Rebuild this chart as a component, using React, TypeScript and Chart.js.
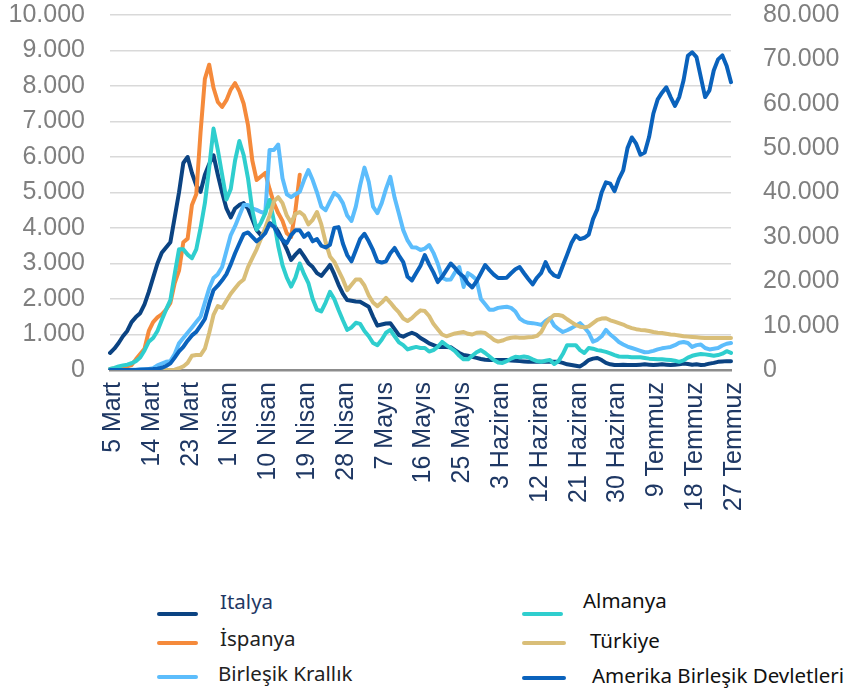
import React, { useEffect, useRef } from 'react';
import { Chart, registerables } from 'chart.js';

Chart.register(...registerables);

const MONTHS = ['Mart', 'Nisan', 'Mayıs', 'Haziran', 'Temmuz'];
const MONTH_DAYS = [31, 30, 31, 30, 31];
const START_DAY = 5;
const DAY_COUNT = 145;
const TICK_EVERY = 9;

function buildDates(n: number): string[] {
  const out: string[] = [];
  let m = 0;
  let d = START_DAY;
  for (let i = 0; i < n; i++) {
    out.push(`${d} ${MONTHS[m]}`);
    d++;
    if (d > MONTH_DAYS[m]) {
      d = 1;
      m++;
    }
  }
  return out;
}

const DATES = buildDates(DAY_COUNT);

const ITALY = [
  480, 600, 760, 950, 1100, 1350, 1490, 1600, 1850, 2200,
  2600, 3000, 3300, 3450, 3600, 4300, 5000, 5830, 6000, 5550,
  5200, 5020, 5500, 5800, 6050, 5500, 5000, 4550, 4300, 4550,
  4650, 4700, 4550, 4250, 3940, 3800, 3900, 4140, 4080, 3900,
  3660, 3400, 3100, 3250, 3380, 3200, 3010, 2900, 2730, 2650,
  2800, 2960, 2700, 2400, 2150, 1970, 1950, 1930, 1920, 1850,
  1780, 1500, 1250, 1280, 1310, 1320, 1150, 980, 940, 1000,
  1050, 1000, 900, 830, 750, 700, 650, 650, 650, 640,
  560, 480, 420, 400, 370, 340, 310, 290, 280, 280,
  280, 280, 280, 270, 260, 250, 240, 230, 230, 230,
  230, 230, 230, 230, 230, 200, 160, 140, 120, 100,
  180, 280, 320, 340, 280, 200, 160, 140, 140, 150,
  140, 140, 140, 150, 160, 150, 140, 150, 160, 150,
  140, 150, 160, 180, 170, 150, 160, 140, 150, 180,
  200, 230, 240, 250, 250,
];

const SPAIN_REPORTED = [
  30, 40, 50, 70, 100, 140, 300, 450, 600, 1100,
  1350, 1480, 1570, 1700, 1890, 2450, 2800, 3600, 3700, 4650,
  4950, 6700, 8200, 8600, 7950, 7550, 7410, 7600, 7900, 8080,
  7850, 7500, 6900, 5900, 5350, 5450, 5550, 5100, 4700, 4420,
  4200, 3850, 3750, 4500, 5500,
];
const SPAIN: (number | null)[] = [
  ...SPAIN_REPORTED,
  ...new Array(DAY_COUNT - SPAIN_REPORTED.length).fill(null),
];

const UK = [
  0, 0, 0, 0, 0, 10, 10, 20, 20, 30,
  50, 130, 180, 230, 250, 450, 750, 900, 1050, 1200,
  1350, 1500, 1900, 2300, 2590, 2700, 2900, 3350, 3800, 4050,
  4350, 4650, 4650, 4550, 4510, 4450, 4420, 6200, 6200, 6350,
  5400, 4950, 4870, 4950, 5020, 5350, 5630, 5350, 5000, 4600,
  4500, 4750, 4990, 4900, 4700, 4350, 4200, 4600, 5200, 5700,
  5300, 4600, 4420, 4700, 5100, 5440, 4850, 4400, 3940, 3650,
  3460, 3450, 3380, 3420, 3520, 3300, 3000, 2600, 2540, 2550,
  2750, 2900, 2340, 2730, 2650, 2540, 2000, 1850, 1700, 1700,
  1750, 1770, 1780, 1750, 1650, 1450, 1370, 1330, 1320, 1300,
  1270, 1380, 1460, 1250, 1150, 1070, 1120, 1180, 1250, 1320,
  1200, 1050, 800, 850, 950, 1130, 1000, 900, 790, 720,
  660, 620, 580, 540, 500, 510, 540, 580, 610, 630,
  650, 700, 770, 790, 760, 650, 700, 720, 620, 580,
  600, 620, 690, 740, 760,
];

const GERMANY = [
  30, 60, 100, 130, 150, 190, 250, 350, 550, 800,
  900, 1100, 1410, 1700, 1970, 2700, 3400, 3400, 3250, 3150,
  3400, 4000, 4700, 5700, 6800, 6200, 5500, 4800, 5100, 5900,
  6450, 6050, 5400, 4500, 3950, 4150, 4420, 4790, 4200, 3500,
  2950, 2600, 2350, 2600, 3000, 2700, 2450, 2000, 1700, 1650,
  1900, 2200, 2000, 1690, 1400, 1130, 1200, 1330, 1300, 1100,
  950, 760, 700, 850, 1050, 1130, 950, 780, 700, 580,
  620, 650, 620, 620, 520, 560, 650, 790, 700, 620,
  530, 400, 300, 300, 400, 500, 560, 480, 380, 280,
  210, 200, 250, 320, 370, 360, 380, 360, 300, 250,
  230, 260, 280, 170, 250, 450, 700, 700, 700, 560,
  480, 620, 600, 560, 540, 510, 470, 420, 380, 370,
  370, 360, 360, 360, 340, 320, 310, 300, 300, 290,
  280, 260, 230, 270, 350, 400, 430, 450, 440, 420,
  400, 420, 460, 530, 480,
];

const TURKEY = [
  0, 0, 0, 0, 0, 0, 0, 0, 0, 0,
  0, 0, 0, 0, 0, 10, 50, 100, 200, 400,
  420, 420, 600, 1040, 1550, 1800, 1750, 1950, 2150, 2300,
  2450, 2550, 2900, 3150, 3400, 3700, 4000, 4350, 4750, 4870,
  4700, 4350, 4150, 4400, 4450, 4350, 4100, 4230, 4450, 4100,
  3600, 3200, 3050, 2800, 2550, 2250, 2400, 2550, 2550, 2380,
  2100, 1900, 1800, 1900, 2030, 1900, 1750, 1620, 1450, 1380,
  1460, 1580, 1680, 1660, 1520, 1300, 1150, 1000, 950, 990,
  1030, 1050, 1070, 1020, 1000, 1050, 1060, 1040, 950, 850,
  800, 830, 880, 910, 920, 910, 910, 920, 930, 960,
  1070, 1300, 1450, 1550, 1550, 1520, 1430, 1350, 1270, 1220,
  1200, 1230, 1320, 1410, 1450, 1460, 1400, 1360, 1320, 1280,
  1220, 1180, 1150, 1130, 1120, 1100, 1070, 1050, 1040, 1020,
  1000, 990, 970, 950, 940, 930, 920, 910, 900, 900,
  900, 900, 900, 900, 900,
];

const USA = [
  0, 0, 0, 0, 0, 0, 0, 50, 100, 150,
  200, 300, 500, 900, 1500, 2800, 4200, 5200, 6600, 7800,
  8600, 10000, 11500, 15000, 18000, 19000, 20200, 21600, 23800, 26300,
  28500, 30600, 31000, 30000, 29000, 29800, 30860, 33000, 32300, 30500,
  29300, 28600, 30400, 31500, 31500, 30000, 30800, 29000, 29500, 28000,
  27600, 28200, 32000, 32200, 28500, 25900, 24500, 27000, 29500, 30700,
  29000, 27000, 24500, 24200, 24500, 26300, 27500, 25800, 24300, 21000,
  20200, 21850, 23500, 25900, 23800, 22000, 19820, 21000, 22500, 24000,
  23000, 21800, 21000, 19500, 18600, 20000, 21800, 23650, 22500, 21500,
  20720, 20720, 20800, 21800, 22700, 23200, 21800, 20500, 19300, 20800,
  21900, 24300, 22300, 21300, 20950, 23500, 26000, 28600, 30300, 29500,
  29800, 30500, 34000, 36200, 40000, 42300, 42000, 40300, 43000, 45000,
  50000, 52400, 51000, 48500, 49000, 52500, 57800, 61000, 62500, 63700,
  61500, 59500, 61500, 65300, 70800, 71600, 70500, 66000, 61500, 63000,
  67500, 70000, 70900, 68500, 64860,
];

const LEFT_MAX = 10000;
const LEFT_STEP = 1000;
const RIGHT_MAX = 80000;
const RIGHT_STEP = 10000;

const COLORS = {
  italy: '#0B4382',
  spain: '#F58A3B',
  uk: '#5CBDFC',
  germany: '#2FCECE',
  turkey: '#D9BE78',
  usa: '#0A62BC',
};

const LEGEND = [
  { label: 'Italya', color: COLORS.italy, textColor: '#1F3864', lineX: 157, lineW: 41, lineY: 614, textX: 220, textY: 601 },
  { label: 'İspanya', color: COLORS.spain, textColor: '#222222', lineX: 157, lineW: 41, lineY: 643, textX: 220, textY: 638 },
  { label: 'Birleşik Krallık', color: COLORS.uk, textColor: '#222222', lineX: 157, lineW: 41, lineY: 677, textX: 218, textY: 673 },
  { label: 'Almanya', color: COLORS.germany, textColor: '#111111', lineX: 522, lineW: 41, lineY: 614, textX: 583, textY: 600 },
  { label: 'Türkiye', color: COLORS.turkey, textColor: '#111111', lineX: 522, lineW: 44, lineY: 643, textX: 590, textY: 640 },
  { label: 'Amerika Birleşik Devletleri', color: COLORS.usa, textColor: '#111111', lineX: 522, lineW: 44, lineY: 678, textX: 592, textY: 675 },
];

function fmt(v: number): string {
  if (v >= 1000) {
    const t = Math.floor(v / 1000);
    const r = v % 1000;
    return `${t}.${String(r).padStart(3, '0')}`;
  }
  return String(v);
}

const W = 849;
const CANVAS_H = 540;
const PLOT_LEFT = 110;
const PLOT_RIGHT = 731;
const PLOT_TOP = 15;
const PLOT_BOTTOM = 370;

export default function App() {
  const ref = useRef<HTMLCanvasElement | null>(null);

  useEffect(() => {
    document.body.style.margin = '0';
    const canvas = ref.current;
    if (!canvas) return;
    const line = (label: string, data: (number | null)[], color: string, axis: string) => ({
      label,
      data,
      borderColor: color,
      backgroundColor: color,
      borderWidth: 4,
      pointRadius: 0,
      pointHoverRadius: 0,
      fill: false,
      tension: 0,
      yAxisID: axis,
      borderCapStyle: 'round' as const,
      borderJoinStyle: 'round' as const,
      spanGaps: false,
    });
    const chart = new Chart(canvas, {
      type: 'line',
      data: {
        labels: DATES,
        datasets: [
          line('Italya', ITALY, COLORS.italy, 'y'),
          line('İspanya', SPAIN, COLORS.spain, 'y'),
          line('Birleşik Krallık', UK, COLORS.uk, 'y'),
          line('Almanya', GERMANY, COLORS.germany, 'y'),
          line('Türkiye', TURKEY, COLORS.turkey, 'y'),
          line('Amerika Birleşik Devletleri', USA, COLORS.usa, 'y1'),
        ].reverse(),
      },
      options: {
        responsive: false,
        animation: false,
        devicePixelRatio: 1,
        layout: { padding: { top: PLOT_TOP, left: 0, right: 0, bottom: 0 } },
        plugins: {
          legend: { display: false },
          tooltip: { enabled: false },
        },
        scales: {
          x: {
            type: 'category',
            offset: false,
            grid: { display: false },
            border: { display: true, color: '#8C8C8C', width: 2.5 },
            ticks: {
              autoSkip: false,
              maxRotation: 90,
              minRotation: 90,
              padding: 4,
              labelOffset: 3,
              color: '#1F3864',
              font: { family: '"Liberation Sans", Arial, sans-serif', size: 25 },
              callback: (_v: any, i: number) => (i % TICK_EVERY === 0 ? DATES[i] : ''),
            },
            afterFit: (s: any) => {
              s.height = CANVAS_H - PLOT_BOTTOM;
            },
          },
          y: {
            position: 'left',
            min: 0,
            max: LEFT_MAX,
            grid: { color: '#D9D9D9', lineWidth: 1.5, drawTicks: false },
            border: { display: false },
            ticks: {
              stepSize: LEFT_STEP,
              padding: 25,
              color: '#7F7F7F',
              font: { family: '"Liberation Sans", Arial, sans-serif', size: 25 },
              callback: (v: any) => fmt(Number(v)),
            },
            afterFit: (s: any) => {
              s.width = PLOT_LEFT;
              s.paddingTop = 0;
              s.paddingBottom = 0;
            },
          },
          y1: {
            position: 'right',
            min: 0,
            max: RIGHT_MAX,
            grid: { display: false, drawOnChartArea: false },
            border: { display: false },
            ticks: {
              stepSize: RIGHT_STEP,
              padding: 24,
              color: '#7F7F7F',
              font: { family: '"Liberation Sans", Arial, sans-serif', size: 25 },
              callback: (v: any) => fmt(Number(v)),
            },
            afterFit: (s: any) => {
              s.width = W - PLOT_RIGHT;
              s.paddingTop = 0;
              s.paddingBottom = 0;
            },
          },
        },
      },
    });
    return () => chart.destroy();
  }, []);

  return (
    <div style={{ position: 'absolute', left: 0, top: 0, width: W, height: 692, background: '#fff', overflow: 'hidden' }}>
      <canvas ref={ref} width={W} height={CANVAS_H} style={{ position: 'absolute', left: 0, top: 0, width: W, height: CANVAS_H }} />
      {LEGEND.map((e) => (
        <React.Fragment key={e.label}>
          <div
            style={{
              position: 'absolute',
              left: e.lineX,
              top: e.lineY - 2,
              width: e.lineW,
              height: 4,
              borderRadius: 2,
              background: e.color,
            }}
          />
          <div
            style={{
              position: 'absolute',
              left: e.textX,
              top: e.textY - 14,
              height: 28,
              lineHeight: '28px',
              fontFamily: '"Noto Sans", "DejaVu Sans", sans-serif',
              fontSize: 20.5,
              color: e.textColor,
              whiteSpace: 'nowrap',
            }}
          >
            {e.label}
          </div>
        </React.Fragment>
      ))}
    </div>
  );
}
